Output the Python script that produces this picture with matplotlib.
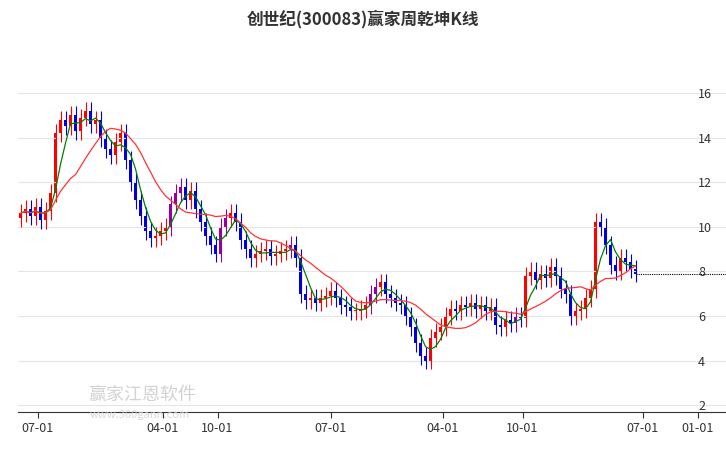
import matplotlib
matplotlib.use("Agg")
import matplotlib.pyplot as plt
import numpy as np
import pandas as pd

plt.rcParams['font.family'] = ['Noto Sans CJK SC', 'DejaVu Sans']

closes = [10.6,10.8,10.5,10.9,10.3,10.7,11.5,
          14.2,14.8,14.5,15.0,14.3,14.9,15.2,14.6,14.8,
          14.0,13.5,13.2,13.8,14.2,
          13.0,12.0,11.2,10.5,9.8,9.5,
          9.6,9.8,10.0,
          11.0,11.5,11.8,11.2,11.6,
          10.8,10.2,9.6,9.2,8.8,
          10.0,10.4,10.6,10.2,
          9.4,9.0,8.6,8.8,
          8.9,9.0,8.7,8.8,8.9,9.0,
          9.2,8.6,
          7.0,6.7,6.8,6.6,6.8,6.9,7.1,
          6.8,6.5,6.4,6.2,
          6.2,6.3,6.5,
          7.0,7.3,7.5,7.0,
          6.8,6.6,6.5,
          6.0,5.5,4.8,4.2,
          4.0,
          5.0,5.3,5.5,
          6.0,6.3,6.2,6.5,6.4,6.6,
          6.3,6.5,6.2,6.4,
          5.6,5.5,5.8,5.7,6.0,5.9,
          7.8,8.0,7.6,7.9,7.7,8.2,7.8,
          7.2,7.0,
          6.0,6.2,6.3,
          6.8,7.2,
          10.2,10.0,9.2,
          8.3,8.0,8.6,
          8.4,8.1,7.9]
purple_idx = [30, 31, 32, 40, 41, 54, 70, 71, 99]
tick_pos = [3.4, 28.4, 39.4, 62, 84.4, 100.4, 124.4, 135.4]
tick_labels = ['07-01', '04-01', '10-01', '07-01', '04-01', '10-01', '07-01', '01-01']

c = np.array(closes)
o = np.concatenate([[c[0] - 0.2], c[:-1]])
hi = np.maximum(o, c) + 0.4
lo = np.minimum(o, c) - 0.4
n = len(c)
x = np.arange(n)

fig = plt.figure(figsize=(7.26, 4.5), dpi=100)
ax = fig.add_axes([18/726, 38/450, 708/726, 362/450])
ax.set_xlim(-0.5, 141.1)
ax.set_ylim(1.69, 17.93)

for i in range(n):
    col = '#ff0000' if c[i] >= o[i] else '#0000dd'
    if i in purple_idx:
        col = '#990099'
    ax.vlines(x[i], lo[i], hi[i], color=col, lw=0.8)
    b = min(o[i], c[i]); h = max(abs(c[i] - o[i]), 0.08)
    ax.bar(x[i], h, bottom=b, width=0.7, color=col, linewidth=0)

s = pd.Series(c)
ax.plot(x, s.rolling(4, min_periods=1).mean(), color='green', lw=0.9)
ax.plot(x, s.rolling(12, min_periods=1).mean(), color='#ff3333', lw=0.9)
ax.plot([x[-1], 141], [c[-1], c[-1]], color='black', lw=0.8, ls=(0, (1, 1)))

ax.set_yticks([2, 4, 6, 8, 10, 12, 14, 16])
ax.yaxis.tick_right()
ax.tick_params(axis='y', direction='in', pad=-20, length=0, labelsize=9, colors='#333333')
ax.grid(axis='y', color='#e6e6e6', lw=0.8)
ax.set_xticks(tick_pos)
ax.set_xticklabels(tick_labels, fontsize=9, color='#333333')
ax.tick_params(axis='x', length=4, color='#333333')
for sp in ['top', 'right', 'left']:
    ax.spines[sp].set_visible(False)
ax.spines['bottom'].set_color('#333333')

fig.text(0.5, 0.945, '创世纪(300083)赢家周乾坤K线', ha='center', fontsize=12, fontweight='bold', color='#333333')
fig.text(88/726, 1 - 400/450, '赢家江恩软件', fontsize=13, color='#c8c8c8', alpha=0.8)
fig.text(90/726, 1 - 418/450, 'www.360gann.com', fontsize=8, color='#d0d0d0', alpha=0.8)

fig.savefig('out.png', dpi=100)
